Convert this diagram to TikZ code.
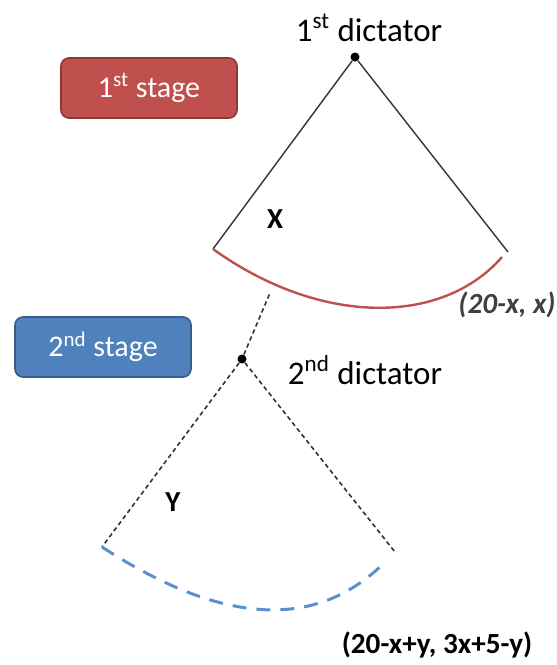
\documentclass[tikz,border=0pt]{standalone}
\usepackage{fontspec}
\setmainfont{Carlito}
\usepackage{xcolor}
\usepackage{tikz}
\usetikzlibrary{positioning, calc}

\definecolor{stagered}{HTML}{C0504D}
\definecolor{stagereddark}{HTML}{8C3836}
\definecolor{stageblue}{HTML}{4F81BD}
\definecolor{stagebluedark}{HTML}{385D8A}
\definecolor{arcblue}{HTML}{5B8FD4}
\definecolor{payoffgray}{HTML}{404040}

\begin{document}
\begin{tikzpicture}[x=0.5pt, y=-0.5pt,
    stagebox/.style={rectangle, rounded corners=4pt, draw=#1dark, thick, fill=#1, minimum width=88pt, minimum height=30pt, text=white, font=\fontsize{15}{17}\selectfont},
    dictdot/.style={circle, fill=black, inner sep=0pt, minimum size=4.5pt},
    dictlabel/.style={font=\fontsize{16.5}{18}\selectfont},
    branch/.style={draw=black!80, line width=0.7pt},
    dashbranch/.style={draw=black!80, line width=0.8pt, dash pattern=on 2.2pt off 1.6pt},
    choice/.style={font=\fontsize{14.5}{16}\selectfont\bfseries},
    payoff/.style={font=\fontsize{14.6}{16}\selectfont\bfseries}
]
\useasboundingbox (0,0) rectangle (557,665);

% Stage labels
\node[stagebox=stagered] (stage1) at (149,88) {1\textsuperscript{st} stage};
\node[stagebox=stageblue] (stage2) at (103,347) {2\textsuperscript{nd} stage};

% Dictators
\node[dictdot] (dict1) at (355,57) {};
\node[dictlabel] (dict1lbl) at (369,28) {1\textsuperscript{st} dictator};
\node[dictdot] (dict2) at (242,359) {};
\node[dictlabel] (dict2lbl) at (365,370) {2\textsuperscript{nd} dictator};

% Branch ends
\coordinate (l1) at (213,249);
\coordinate (r1) at (508,252);
\coordinate (r1arc) at (502,257);
\coordinate (up2) at (270,293);
\coordinate (l2) at (102,547);
\coordinate (r2) at (395,552);
\coordinate (r2arc) at (384,563);

% 1st stage
\draw[branch] (dict1) -- (l1);
\draw[branch] (dict1) -- (r1);
\draw[stagered, line width=1.2pt] (l1) .. controls (320,326) and (442,326) .. (r1arc);
\node[choice] (xchoice) at (275,219) {X};
\node[payoff, text=payoffgray] (payoff1) at (507,305) {\itshape (20-x, x)};

% 2nd stage
\draw[dashbranch] (dict2) -- (up2);
\draw[dashbranch] (dict2) -- (l2);
\draw[dashbranch] (dict2) -- (r2);
\draw[arcblue, line width=1.5pt, dash pattern=on 7pt off 5pt] (l2) .. controls (227,628) and (318,628) .. (r2arc);
\node[choice] (ychoice) at (173,502) {Y};
\node[payoff] (payoff2) at (437,645) {(20-x+y, 3x+5-y)};

\end{tikzpicture}
\end{document}
